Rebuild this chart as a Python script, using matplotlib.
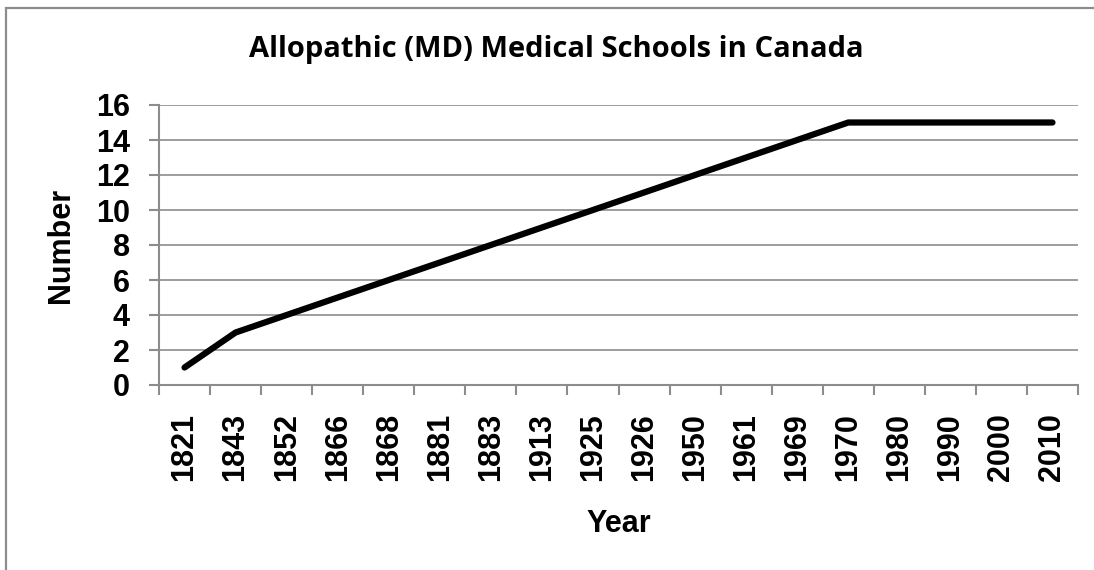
import matplotlib.pyplot as plt
from matplotlib.patches import Rectangle

# Data
years = ['1821', '1843', '1852', '1866', '1868', '1881', '1883', '1913', '1925',
         '1926', '1950', '1961', '1969', '1970', '1980', '1990', '2000', '2010']
schools = [1, 3, 4, 5, 6, 7, 8, 9, 10, 11, 12, 13, 14, 15, 15, 15, 15, 15]
y_ticks = [0, 2, 4, 6, 8, 10, 12, 14, 16]

W, H = 1094, 570
grey = '#8c8c8c'
fig = plt.figure(figsize=(W / 100, H / 100), dpi=100)

# caption line above the chart box, clipped by the top edge (only descenders show)
fig.text(45 / W, 1 + 7 / H, 'Figure 6. The number of allopathic medical schools in Canada has not changed in 40 years.',
         family='Liberation Serif', fontsize=18.3, va='baseline', ha='left')

# outer chart frame (runs off the right and bottom edges)
fig.patches.append(Rectangle((6 / W, -0.1), 1.2, 1 - 8 / H + 0.1, transform=fig.transFigure,
                             fill=False, edgecolor=grey, linewidth=1.6))

ax = fig.add_axes([159 / W, 185 / H, (1078 - 159) / W, (385 - 105) / H])
x = list(range(len(years)))
ax.plot(x, schools, color='black', linewidth=4.5, solid_capstyle='round')

ax.set_xlim(-0.5, len(years) - 0.5)
ax.set_ylim(0, 16)
ax.set_yticks(y_ticks)
ax.set_yticklabels([str(v) for v in y_ticks], fontsize=22, fontweight='bold', family='Liberation Sans')
ax.set_xticks(x)
ax.set_xticklabels(years, rotation=90, fontsize=22, fontweight='bold', family='Liberation Sans')
ax.set_xticks([i - 0.5 for i in range(len(years) + 1)], minor=True)
ax.tick_params(axis='x', which='major', length=0, pad=20)
ax.tick_params(axis='x', which='minor', length=7, color=grey, width=1.5)
ax.tick_params(axis='y', length=7, color=grey, width=1.5, pad=14)

ax.grid(axis='y', color=grey, linewidth=1.2)
ax.set_axisbelow(True)
for side in ['top', 'right']:
    ax.spines[side].set_visible(False)
for side in ['left', 'bottom']:
    ax.spines[side].set_color(grey)
    ax.spines[side].set_linewidth(1.5)

# title is centred on the whole chart frame, not on the plot area
fig.text(556 / W, 1 - 50 / H, 'Allopathic (MD) Medical Schools in Canada', fontsize=21,
         fontweight='bold', family='Open Sans', ha='center', va='center')
ax.set_ylabel('Number', fontsize=22, fontweight='bold', family='Liberation Sans', labelpad=14)
ax.set_xlabel('Year', fontsize=22, fontweight='bold', family='Liberation Sans', labelpad=20)

fig.savefig('out.png', dpi=100)
